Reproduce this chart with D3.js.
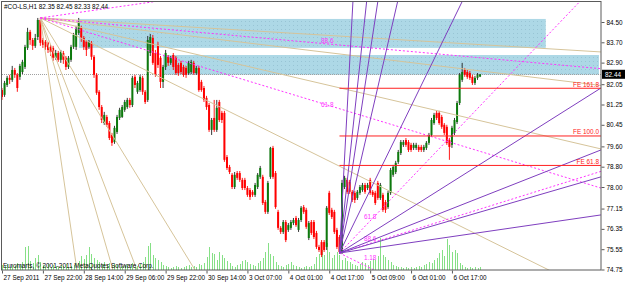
<!DOCTYPE html>
<html>
<head>
<meta charset="utf-8">
<script src="https://cdn.jsdelivr.net/npm/d3@7"></script>
<style>
  body { margin: 0; background: #fff; }
  svg { display: block; }
  text { font-family: "Liberation Sans", Arial, sans-serif; font-size: 6.4px; }
</style>
</head>
<body>
<div id="chart"></div>
<script>
// #CO-LS H1 candles, one entry per bar (27 Sep 2011 06:00 .. 6 Oct 2011 ~21:00)
const opens = [
  81.82,81.63,82.02,82.30,82.22,82.61,82.42,82.34,82.53,82.73,
  83.48,84.11,83.79,83.56,83.91,84.58,83.79,83.72,83.68,83.52,
  83.48,83.09,83.28,83.01,83.28,83.09,82.73,83.01,83.52,83.52,
  84.07,84.27,83.87,83.72,83.52,83.68,83.13,82.42,81.75,81.15,
  80.52,80.76,80.52,80.05,79.77,80.17,80.72,80.76,81.04,81.15,
  81.43,81.23,82.34,81.75,81.82,82.30,81.75,81.43,83.28,83.87,
  83.28,83.60,83.09,82.14,82.73,83.13,82.89,83.20,83.09,82.81,
  82.89,82.73,82.69,82.49,82.53,82.89,82.49,82.69,82.14,81.90,
  81.51,81.23,80.25,80.72,80.25,81.35,80.92,80.92,79.18,78.79,
  78.48,78.00,78.55,78.55,78.28,78.28,77.96,77.88,77.81,77.69,
  78.00,78.40,78.40,77.41,77.02,78.40,79.54,78.55,77.02,76.39,
  76.23,76.62,76.31,76.39,76.58,76.78,76.31,76.70,77.21,77.10,
  75.99,76.62,76.62,76.19,75.64,75.83,75.83,75.64,77.77,77.10,
  77.02,76.31,76.03,75.44,78.00,78.28,78.20,77.81,77.77,77.57,
  77.77,77.88,78.08,77.96,78.28,77.81,77.77,78.16,77.57,77.69,
  77.41,77.21,77.77,78.48,78.59,78.99,79.34,79.66,79.85,79.77,
  79.66,79.54,79.54,79.58,79.58,79.46,79.54,79.74,80.05,80.52,
  80.92,80.92,80.76,80.45,80.37,79.85,79.66,80.13,80.56,81.31,
  82.22,82.61,82.53,82.49,82.34,82.10,82.30,82.35
];
const highs = [
  81.90,82.18,82.38,82.42,82.77,82.69,82.49,82.85,83.01,83.60,
  84.27,84.19,83.87,84.03,84.66,84.66,83.87,83.79,83.72,83.60,
  83.56,83.40,83.36,83.40,83.36,83.16,83.16,83.60,84.07,84.35,
  84.66,84.35,83.95,83.79,83.79,83.75,83.20,82.49,81.82,81.23,
  80.96,80.84,80.60,80.13,80.41,80.84,81.12,81.23,81.43,81.51,
  81.51,82.38,82.42,82.18,82.42,82.38,81.82,83.95,84.03,83.99,
  83.40,83.72,83.16,82.81,83.40,83.20,83.16,83.28,83.16,82.89,
  82.97,82.81,82.77,82.97,83.01,82.97,82.77,82.77,82.22,81.98,
  81.59,81.31,80.72,81.43,81.43,81.43,81.00,81.00,79.26,78.87,
  78.55,78.59,78.63,78.63,78.36,78.36,78.04,77.96,77.88,78.16,
  78.55,78.83,78.48,77.49,78.24,79.58,79.62,78.63,77.10,76.46,
  76.70,76.70,76.58,76.70,76.78,76.86,76.78,77.25,77.29,77.18,
  76.66,76.70,76.70,76.27,75.72,75.91,75.91,77.25,77.85,77.18,
  77.10,76.39,76.11,78.28,78.44,78.36,78.28,77.88,77.85,77.88,
  78.08,78.16,78.16,78.16,78.36,77.88,77.85,78.24,78.16,77.77,
  77.49,77.85,78.75,78.87,79.03,79.46,79.85,79.85,79.93,79.85,
  79.74,79.74,79.74,79.66,79.66,79.66,79.81,80.13,80.72,80.92,
  81.00,81.00,80.84,80.52,80.45,79.93,80.41,80.72,81.39,82.49,
  82.89,82.69,82.61,82.57,82.42,82.38,82.49,82.45
];
const lows = [
  81.43,81.55,81.94,82.06,82.14,82.30,81.75,82.22,82.45,82.65,
  83.40,83.60,83.40,83.48,83.79,83.56,83.48,83.40,83.28,83.16,
  82.97,83.01,82.93,82.89,82.85,82.61,82.65,82.93,83.44,83.40,
  83.99,83.72,83.40,83.16,83.44,83.01,82.30,81.63,81.04,80.52,
  80.45,80.37,79.85,79.62,79.70,80.09,80.64,80.72,80.96,81.08,
  81.12,81.15,81.90,81.67,81.75,81.63,81.27,81.35,83.16,82.81,
  82.34,82.69,81.90,81.90,82.61,82.77,82.81,82.61,82.42,82.38,
  82.45,82.34,82.30,82.42,82.45,82.42,82.42,81.75,81.75,81.35,
  81.04,80.17,80.05,80.17,80.17,80.56,80.52,78.99,78.67,78.51,
  77.92,77.92,78.28,78.20,77.88,77.88,77.61,77.49,77.61,77.61,
  77.92,78.32,77.29,76.94,76.94,78.32,78.32,77.14,76.31,76.15,
  76.15,75.83,76.23,76.31,76.50,76.43,76.23,76.62,76.94,76.35,
  75.91,76.11,75.95,75.56,75.44,75.24,75.44,75.52,76.90,76.74,
  76.15,75.56,75.36,75.36,77.92,77.73,77.73,77.41,77.37,77.49,
  77.69,77.81,77.73,77.88,77.69,77.61,77.29,77.49,77.49,77.02,
  76.98,77.14,77.69,78.40,78.51,78.91,79.26,79.58,79.58,79.38,
  79.38,79.46,79.46,79.38,79.38,79.38,79.46,79.66,79.97,80.45,
  80.64,80.45,80.29,80.05,79.66,79.07,79.54,80.05,80.48,81.23,
  82.14,82.34,82.26,82.22,82.02,82.02,82.22,82.33
];
const closes = [
  81.55,82.10,82.30,82.22,82.61,82.42,81.90,82.77,82.93,83.52,
  84.11,83.79,83.56,83.87,84.58,83.68,83.60,83.52,83.40,83.32,
  83.09,83.28,83.01,83.32,83.01,82.73,83.09,83.52,83.99,84.27,
  84.50,83.87,83.52,83.40,83.72,83.13,82.42,81.71,81.15,80.64,
  80.84,80.45,79.93,79.74,80.33,80.76,81.04,81.15,81.35,81.43,
  81.23,82.30,82.02,82.10,82.34,81.75,81.35,83.79,83.91,82.89,
  82.42,82.81,82.14,82.73,83.28,82.89,83.09,82.73,82.49,82.49,
  82.53,82.42,82.42,82.89,82.93,82.49,82.69,81.82,81.82,81.43,
  81.15,80.25,80.64,80.25,81.12,80.64,80.64,79.07,78.75,78.59,
  78.00,78.48,78.36,78.28,77.96,77.96,77.69,77.61,77.69,78.08,
  78.48,78.75,77.37,77.02,78.16,79.54,78.40,77.21,76.39,76.23,
  76.62,75.91,76.50,76.62,76.70,76.50,76.70,77.18,77.02,76.43,
  76.58,76.19,76.03,75.64,75.52,75.32,75.52,77.18,76.98,76.82,
  76.23,75.64,75.44,78.16,78.36,77.81,77.81,77.49,77.49,77.81,
  78.00,78.08,77.81,78.08,77.77,77.69,77.37,77.57,78.08,77.10,
  77.10,77.77,78.67,78.79,78.95,79.38,79.77,79.77,79.66,79.46,
  79.46,79.66,79.66,79.46,79.46,79.58,79.74,80.05,80.64,80.84,
  80.72,80.52,80.37,80.13,79.74,79.58,80.33,80.64,81.31,82.42,
  82.53,82.42,82.34,82.30,82.10,82.30,82.42,82.44
];
const volumes = [
  500,400,600,300,500,400,700,500,800,2300,
  2400,900,700,1200,1500,800,500,400,600,300,
  500,400,300,500,400,600,300,400,500,700,
  900,1400,1100,1500,2300,1600,1200,1000,800,600,
  800,500,700,400,600,500,300,400,500,600,
  300,700,500,400,600,800,1300,2400,2700,1500,
  1200,1000,800,500,400,300,200,300,400,300,
  200,300,400,500,300,400,300,600,500,700,
  1300,2300,1700,1600,1000,1800,1500,1200,900,700,
  400,300,500,600,900,1000,800,600,500,400,
  700,900,1200,1800,2700,1600,1400,800,500,400,
  300,500,600,800,500,400,300,200,300,400,
  300,400,600,1300,1600,2000,1500,2700,1800,1200,
  1500,1800,1500,1000,1200,900,800,600,500,400,
  600,800,700,500,900,1100,1000,1400,3200,1500,
  1300,1000,800,500,400,300,300,200,300,200,
  300,200,300,400,300,500,600,800,700,1000,
  1200,1700,2000,1400,3100,2500,1800,2000,1700,700,
  500,300,200,300,200,300,200,300
];

const timeTicks = [0, 16, 32, 48, 64, 80, 96, 112, 128, 144, 160, 176];
const timeLabels = ["27 Sep 2011", "27 Sep 22:00", "28 Sep 14:00", "29 Sep 06:00",
  "29 Sep 22:00", "30 Sep 14:00", "3 Oct 07:00", "4 Oct 01:00", "4 Oct 17:00",
  "5 Oct 09:00", "6 Oct 01:00", "6 Oct 17:00"];
const priceTicks = [84.50, 83.70, 82.90, 82.05, 81.25, 80.45, 79.60, 78.80, 78.00, 77.15, 76.35, 75.55, 74.75];
const lastPrice = 82.44;
const title = "#CO-LS,H1  82.35 82.45 82.33 82.44";
const copyright = "Euromarts, \u00a9 2001-2011 MetaQuotes Software Corp.";

// drawn objects: rectangles [bar1, price1, bar2, price2]
const zones = [[30.1, 84.62, 212.7, 83.48], [63.0, 83.20, 233.5, 82.42]];
// tan speed lines from the 28 Sep high, each through [bar, price]
const tanOrigin = [15, 84.66];
const tanTargets = [[29.3, 74.73], [43.4, 74.73], [52.8, 74.73], [75.5, 74.73],
  [213.9, 74.73], [234.3, 83.32], [234.3, 82.00], [234.3, 79.50]];
// fibonacci fans: from point 1 to point 2, levels
const fibFans = [
  { p1: [15, 84.66], p2: [132, 75.30], levels: [0.618, 0.886, 1.18], labels: ["61.8", "88.6", "1.18"], side: "end" },
  { p1: [132, 75.40], p2: [144, 78.71], levels: [0.618, 0.886, 1.18], labels: ["61.8", "88.6", "1.18"], side: "middle" }
];
// gann-style purple rays from the 4 Oct low
const gannOrigin = [132, 75.40];
const gannTargets = [[137.3, 85.37], [142.7, 85.37], [147.1, 85.37], [154.9, 85.37], [180.3, 85.37],
  [234.3, 81.90], [234.3, 79.46], [234.3, 78.40], [234.3, 76.90]];
// fibonacci expansion levels
const feLevels = [81.89, 80.01, 78.85];
const feLabels = ["FE 161.8", "FE 100.0", "FE 61.8"];
const feStart = 132;

const W = 625, H = 282;
const L = 2, R = 601, T = 1, B = 270;

const svg = d3.select("#chart").append("svg")
  .attr("width", W).attr("height", H);

svg.append("rect").attr("width", W).attr("height", H).attr("fill", "#fff");

const x = d3.scaleLinear().domain([0, 234.3]).range([L, R]);
const y = d3.scaleLinear().domain([74.75, 84.50]).range([269.5, 22]);
const vy = d3.scaleLinear().domain([0, 3000]).range([B, B - 30]);

const defs = svg.append("defs");
defs.append("clipPath").attr("id", "plot")
  .append("rect").attr("x", L).attr("y", T + 1).attr("width", R - L).attr("height", B - T - 1);
const pat = defs.append("pattern").attr("id", "dots")
  .attr("width", 4).attr("height", 4).attr("patternUnits", "userSpaceOnUse");
pat.append("rect").attr("width", 4).attr("height", 4).attr("fill", "#add8e6");
pat.append("rect").attr("x", 1).attr("y", 1).attr("width", 1).attr("height", 1).attr("fill", "#98c4d4");

const plot = svg.append("g").attr("clip-path", "url(#plot)");

// rectangles
plot.append("g").selectAll("rect").data(zones).join("rect")
  .attr("x", d => x(d[0]))
  .attr("y", d => y(d[1]))
  .attr("width", d => x(d[2]) - x(d[0]))
  .attr("height", d => y(d[3]) - y(d[1]))
  .attr("fill", "url(#dots)");

// volumes
plot.append("g").selectAll("line").data(volumes).join("line")
  .attr("x1", (d, i) => Math.round(x(i)) + 0.5)
  .attr("x2", (d, i) => Math.round(x(i)) + 0.5)
  .attr("y1", B)
  .attr("y2", d => vy(d))
  .attr("stroke", "#86e086")
  .attr("stroke-width", 1);

// bid line
plot.append("line")
  .attr("x1", L).attr("x2", R)
  .attr("y1", Math.round(y(lastPrice)) + 0.5).attr("y2", Math.round(y(lastPrice)) + 0.5)
  .attr("stroke", "#a0a0a0").attr("stroke-dasharray", "1,1");

// candles
const bars = d3.range(closes.length);
const candle = plot.append("g").selectAll("g").data(bars).join("g");
candle.append("line")
  .attr("x1", i => x(i)).attr("x2", i => x(i))
  .attr("y1", i => y(highs[i])).attr("y2", i => y(lows[i]))
  .attr("stroke", i => closes[i] >= opens[i] ? "#202020" : "#ff0000")
  .attr("stroke-width", 0.9);
candle.append("rect")
  .attr("x", i => x(i) - 1)
  .attr("width", 2)
  .attr("y", i => y(Math.max(opens[i], closes[i])))
  .attr("height", i => Math.max(0.8, Math.abs(y(opens[i]) - y(closes[i]))))
  .attr("fill", i => closes[i] >= opens[i] ? "#0d7a0d" : "#ff0000");

// helper: ray from a through b, extended far past the chart
function ray(a, b) {
  const x0 = x(a[0]), y0 = y(a[1]), x1 = x(b[0]), y1 = y(b[1]);
  const k = 60;
  return [x0, y0, x0 + (x1 - x0) * k, y0 + (y1 - y0) * k];
}

// tan speed lines
plot.append("g").selectAll("line").data(tanTargets).join("line")
  .each(function (d) {
    const r = ray(tanOrigin, d);
    d3.select(this).attr("x1", r[0]).attr("y1", r[1]).attr("x2", r[2]).attr("y2", r[3]);
  })
  .attr("stroke", "#d6c49a").attr("stroke-width", 1);

// fib fans (magenta dotted)
fibFans.forEach(f => {
  const g = plot.append("g");
  f.levels.forEach((lv, j) => {
    const target = [f.p2[0], f.p2[1] + lv * (f.p1[1] - f.p2[1])];
    const r = ray(f.p1, target);
    g.append("line")
      .attr("x1", r[0]).attr("y1", r[1]).attr("x2", r[2]).attr("y2", r[3])
      .attr("stroke", "#ff33ff").attr("stroke-width", 1).attr("stroke-dasharray", "2,2");
    const ty = y(target[1]);
    if (ty > 5 && ty < B + 10) {
      g.append("text")
        .attr("x", f.side === "end" ? x(f.p2[0]) - 6 : x(f.p2[0]))
        .attr("y", Math.min(ty - 2, 260))
        .attr("text-anchor", f.side)
        .attr("fill", "#ff33ff")
        .text(f.labels[j]);
    }
  });
});

// purple gann rays
plot.append("g").selectAll("line").data(gannTargets).join("line")
  .each(function (d) {
    const r = ray(gannOrigin, d);
    d3.select(this).attr("x1", r[0]).attr("y1", r[1]).attr("x2", r[2]).attr("y2", r[3]);
  })
  .attr("stroke", "#7f3fbf").attr("stroke-width", 1);

// fibonacci expansion
const fe = plot.append("g");
fe.selectAll("line").data(feLevels).join("line")
  .attr("x1", x(feStart)).attr("x2", R)
  .attr("y1", d => y(d)).attr("y2", d => y(d))
  .attr("stroke", "#ff2020").attr("stroke-width", 1);
fe.selectAll("text").data(feLevels).join("text")
  .attr("x", R - 2).attr("y", d => y(d) - 1.5)
  .attr("text-anchor", "end").attr("fill", "#ff2020")
  .text((d, i) => feLabels[i]);

// frame
svg.append("rect")
  .attr("x", 1.5).attr("y", 1.5).attr("width", R - 1.5).attr("height", B - 1.5)
  .attr("fill", "none").attr("stroke", "#5a5a5a").attr("stroke-width", 1);

// price axis
const yAxis = svg.append("g")
  .attr("transform", `translate(${R + 0.5},0)`)
  .call(d3.axisRight(y).tickValues(priceTicks).tickSize(3).tickPadding(2)
    .tickFormat(d3.format(".2f")));
yAxis.select(".domain").remove();
yAxis.selectAll("line").attr("stroke", "#5a5a5a");
yAxis.selectAll("text").attr("fill", "#000").style("font-size", "6.4px")
  .style("font-family", '"Liberation Sans", Arial, sans-serif');

// current price box
svg.append("rect")
  .attr("x", R + 1).attr("y", y(lastPrice) - 4.5).attr("width", 23).attr("height", 9)
  .attr("fill", "#000");
svg.append("text")
  .attr("x", R + 4).attr("y", y(lastPrice) + 2.3)
  .attr("fill", "#fff").text(d3.format(".2f")(lastPrice));

// time axis
const xAxis = svg.append("g")
  .attr("transform", `translate(0,${B + 0.5})`)
  .call(d3.axisBottom(x).tickValues(timeTicks).tickSize(3).tickPadding(2)
    .tickFormat((d, i) => timeLabels[i]));
xAxis.select(".domain").remove();
xAxis.selectAll("line").attr("stroke", "#5a5a5a");
xAxis.selectAll("text").attr("fill", "#000").attr("text-anchor", "start").attr("dx", 1)
  .attr("y", 5).style("font-size", "6.4px")
  .style("font-family", '"Liberation Sans", Arial, sans-serif');

// title and copyright
svg.append("text").attr("x", 4).attr("y", 9).attr("fill", "#000").text(title);
svg.append("text").attr("x", 3).attr("y", 267.5).attr("fill", "#000").text(copyright);
</script>
</body>
</html>
